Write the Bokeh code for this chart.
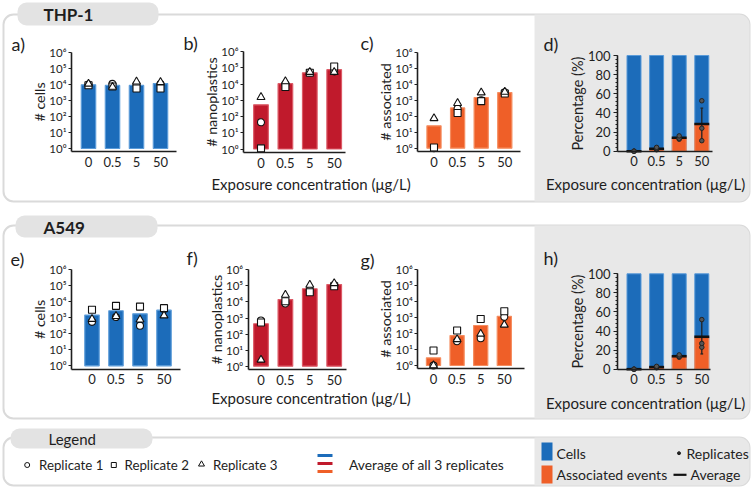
from bokeh.plotting import figure
from bokeh.models import (Range1d, FixedTicker, SingleIntervalTicker, LogScale,
                          LogAxis, LinearAxis, CustomJSTickFormatter,
                          BoxAnnotation, Label)
from bokeh.embed import file_html
from bokeh.resources import INLINE

FONT = "Lato"
TXT = "#1e1e1e"

# ---------------- data ----------------
conc = ["0", "0.5", "5", "50"]
log_ticks = [1, 10, 100, 1000, 10000, 100000, 1000000]

# THP-1
thp_cells_avg = [9500, 8700, 8700, 11500]
thp_cells_r1 = [9800, 11000, 10000, 10700]
thp_cells_r2 = [9000, 7500, 5600, 5600]
thp_cells_r3 = [11000, 7000, 15000, 14000]

thp_np_avg = [525, 10500, 49000, 76000]
thp_np_r1 = [44, 10000, 50000, 60000]
thp_np_r2 = [1.1, 6500, 49000, 120000]
thp_np_r3 = [1550, 14500, 54000, 54000]

thp_as_avg = [25, 330, 1480, 3000]
thp_as_r1 = [1, 290, 1000, 3100]
thp_as_r2 = [1.1, 160, 870, 2600]
thp_as_r3 = [74, 650, 3000, 3300]

thp_pct_avg = [0, 2.5, 14, 28.5]
thp_pct_sd = [0, 1.2, 1.8, 16.5]
thp_pct_r1 = [0, 1.5, 12.5, 24]
thp_pct_r2 = [0, 2.5, 13.5, 11]
thp_pct_r3 = [0, 4, 16, 52.7]

# A549
a549_cells_avg = [1480, 2750, 1780, 3000]
a549_cells_r1 = [560, 1120, 316, 3500]
a549_cells_r2 = [3160, 5600, 5000, 4000]
a549_cells_r3 = [830, 1260, 760, 1380]

a549_np_avg = [440, 14000, 66000, 120000]
a549_np_r1 = [700, 8000, 56000, 112000]
a549_np_r2 = [520, 11000, 40000, 95000]
a549_np_r3 = [2.5, 27500, 115000, 145000]

a549_as_avg = [3, 74, 316, 1200]
a549_as_r1 = [1, 33, 51, 1100]
a549_as_r2 = [8.7, 155, 800, 2450]
a549_as_r3 = [1, 43, 95, 350]

a549_pct_avg = [0, 2.2, 13.6, 34]
a549_pct_sd = [0, 1.0, 1.5, 18]
a549_pct_r1 = [0, 1.5, 12.5, 23]
a549_pct_r2 = [0, 2, 13.5, 27]
a549_pct_r3 = [0, 3, 15, 52]

# ---------------- styles ----------------
BLUE, BLUE_L = "#1c6cba", "#5a9bd9"
RED, RED_L = "#c01a2c", "#dc5a66"
ORANGE, ORANGE_L = "#ef5f28", "#f58d5f"
GRAY_BG = "#e8e8e8"
FRAME = "#dadada"
TAB = "#e3e3e3"

W, H = 756, 489

# panel layout (pixel positions in the picture):
# axis_x, first bar centre, bar spacing, y of top tick, y of zero tick, y of x axis, x-axis end
LAY = {
    "a": (71, 88, 24, 52, 148, 151, 176),
    "b": (243, 260.5, 24.4, 51, 148.5, 152, 345),
    "c": (417, 433.5, 23.6, 51.7, 147.7, 151, 520),
    "d": (617, 633.5, 22.6, 55, 150.7, 150.7, 712),
    "e": (71, 91.5, 24, 269.3, 365.3, 368.5, 180),
    "f": (247.7, 260.5, 24.4, 269.3, 365.7, 369, 346),
    "g": (417.3, 433, 23.6, 269, 365, 368.3, 524),
    "h": (617, 633.5, 22.6, 273.3, 368.7, 368.7, 710),
}

p = figure(width=W, height=H, x_range=Range1d(0, W), y_range=Range1d(H, 0),
           min_border=0, toolbar_location=None, output_backend="svg",
           outline_line_color=None, border_fill_color="white",
           background_fill_color="white", x_axis_location=None,
           y_axis_location=None)
p.grid.visible = False

idx = list(range(len(conc)))
cat_fmt = CustomJSTickFormatter(args=dict(labels=conc),
                                code="return labels[Math.round(tick)];")
log_fmt = CustomJSTickFormatter(
    code="const s='\u2070\u00b9\u00b2\u00b3\u2074\u2075\u2076';"
         "const e=Math.round(Math.log10(tick));return '10'+s[e];")


def style_axis(ax):
    ax.axis_line_color = TXT
    ax.axis_line_width = 1.6
    ax.major_label_text_font = FONT
    ax.major_label_text_color = TXT
    ax.axis_label_text_font = FONT
    ax.axis_label_text_color = TXT
    ax.axis_label_text_font_style = "normal"
    ax.axis_label_text_font_size = "14.3px"
    ax.major_tick_line_color = TXT
    ax.major_tick_line_width = 1.2
    ax.minor_tick_line_color = None


def panel_axes(key, kind, ylabel):
    axis_x, first, sp, y_top, y_zero, axis_y, x_end = LAY[key]
    xr, yr = "x" + key, "y" + key
    p.extra_x_ranges[xr] = Range1d(-first / sp, (W - first) / sp)
    if kind == "log":
        dec = (y_zero - y_top) / 6.0
        p.extra_y_ranges[yr] = Range1d(10 ** ((y_zero - H) / dec), 10 ** (y_zero / dec))
        p.extra_y_scales[yr] = LogScale()
        yax = LogAxis(y_range_name=yr, fixed_location=axis_x,
                      bounds=(10 ** (-(axis_y - y_zero) / dec), 1e6),
                      ticker=FixedTicker(ticks=log_ticks), formatter=log_fmt)
        style_axis(yax)
        yax.major_label_text_font_size = "11.5px"
        yax.major_tick_out = 3
        yax.major_tick_in = 0
        yax.major_label_standoff = 2
        yax.axis_label_standoff = -2
    else:
        u = (y_zero - y_top) / 100.0
        p.extra_y_ranges[yr] = Range1d((y_zero - H) / u, y_zero / u)
        yax = LinearAxis(y_range_name=yr, fixed_location=axis_x, bounds=(0, 100),
                         ticker=SingleIntervalTicker(interval=20, num_minor_ticks=5))
        style_axis(yax)
        yax.major_label_text_font_size = "13px"
        yax.axis_label_text_font_size = "14.5px"
        yax.major_tick_out = 4
        yax.major_tick_in = 0
        yax.minor_tick_line_color = TXT
        yax.minor_tick_out = 2
        yax.minor_tick_in = 0
        yax.major_label_standoff = 3
        yax.axis_label_standoff = -1
    yax.axis_label = ylabel
    xax = LinearAxis(x_range_name=xr, fixed_location=axis_y,
                     bounds=((axis_x - first) / sp, (x_end - first) / sp),
                     ticker=FixedTicker(ticks=idx), formatter=cat_fmt)
    style_axis(xax)
    xax.major_tick_line_color = None
    xax.major_tick_out = 0
    xax.major_tick_in = 0
    xax.major_label_text_font_size = "13px"
    xax.major_label_standoff = 5
    p.add_layout(yax, "left")
    p.add_layout(xax, "below")
    return xr, yr


def log_panel(key, avg, r1, r2, r3, fill, line, ylabel):
    xr, yr = panel_axes(key, "log", ylabel)
    kw = dict(x_range_name=xr, y_range_name=yr)
    p.vbar(x=idx, top=avg, bottom=1, width=0.6, fill_color=fill,
           line_color=line, line_width=1.2, **kw)
    p.scatter(x=idx, y=r1, marker="circle", size=7, fill_color="white",
              line_color="#111", line_width=1.1, **kw)
    p.scatter(x=idx, y=r2, marker="square", size=7, fill_color="white",
              line_color="#111", line_width=1.1, **kw)
    p.scatter(x=idx, y=r3, marker="triangle", size=8, fill_color="white",
              line_color="#111", line_width=1.1, **kw)


def pct_panel(key, avg, sd, r1, r2, r3):
    xr, yr = panel_axes(key, "pct", "Percentage (%)")
    kw = dict(x_range_name=xr, y_range_name=yr)
    full = [100] * len(conc)
    p.vbar(x=idx, top=full, bottom=0, width=0.62, fill_color=BLUE,
           line_color=BLUE_L, line_width=1, **kw)
    p.vbar(x=idx, top=avg, bottom=0, width=0.62, fill_color=ORANGE,
           line_color=ORANGE_L, line_width=1, **kw)
    lo = [a - s for a, s in zip(avg, sd)]
    hi = [a + s for a, s in zip(avg, sd)]
    p.segment(x0=idx, y0=lo, x1=idx, y1=hi, line_color="#222", line_width=1.3, **kw)
    p.rect(x=idx, y=lo, width=0.12, height=1.3, height_units="screen",
           fill_color="#222", line_color=None, **kw)
    p.rect(x=idx, y=hi, width=0.12, height=1.3, height_units="screen",
           fill_color="#222", line_color=None, **kw)
    p.rect(x=idx, y=avg, width=0.66, height=2.6, height_units="screen",
           fill_color="#111", line_color=None, **kw)
    for r in (r1, r2, r3):
        p.scatter(x=idx, y=r, marker="circle", size=4.5, fill_color="#555",
                  line_color="#222", line_width=1, **kw)


# ---------------- decorations (picture pixel coordinates) ----------------
def box(l, r, t, b, fill=None, line=None, radius=0, lw=2):
    p.add_layout(BoxAnnotation(
        left=l, right=r, top=t, bottom=b, level="underlay",
        fill_color=fill if fill else "white", fill_alpha=1 if fill else 0,
        line_color=line if line else "white", line_alpha=1 if line else 0,
        line_width=lw, border_radius=radius))


def label(x, y, text, size="14px", align="left", style="normal"):
    p.add_layout(Label(x=x, y=y, text=text, text_font=FONT, text_font_size=size,
                       text_align=align, text_baseline="middle",
                       text_color=TXT, text_font_style=style))


box(3, 749, 14, 201, line=FRAME, radius=10)
box(534, 749, 14, 201, fill=GRAY_BG, radius=(0, 10, 10, 0))
box(17, 158, 2, 25, fill=TAB, radius=9)
box(3, 749, 225, 418, line=FRAME, radius=10)
box(534, 749, 225, 418, fill=GRAY_BG, radius=(0, 10, 10, 0))
box(15, 157, 215, 237, fill=TAB, radius=9)
box(3, 749, 437, 485, line=FRAME, radius=10)
box(534, 749, 437, 485, fill=GRAY_BG, radius=(0, 10, 10, 0))
box(10, 152, 428, 448, fill=TAB, radius=9)

box(317, 332, 453.5, 456.5, fill=BLUE)
box(317, 332, 461.5, 464.5, fill=RED)
box(317, 332, 469.5, 472.5, fill=ORANGE)
box(541, 552, 442, 460, fill=BLUE)
box(541, 552, 465, 483, fill=ORANGE)
box(673, 686, 473.2, 475.4, fill="#111")

# ---------------- panels ----------------
log_panel("a", thp_cells_avg, thp_cells_r1, thp_cells_r2, thp_cells_r3, BLUE, BLUE_L, "# cells")
log_panel("b", thp_np_avg, thp_np_r1, thp_np_r2, thp_np_r3, RED, RED_L, "# nanoplastics")
log_panel("c", thp_as_avg, thp_as_r1, thp_as_r2, thp_as_r3, ORANGE, ORANGE_L, "# associated")
pct_panel("d", thp_pct_avg, thp_pct_sd, thp_pct_r1, thp_pct_r2, thp_pct_r3)
log_panel("e", a549_cells_avg, a549_cells_r1, a549_cells_r2, a549_cells_r3, BLUE, BLUE_L, "# cells")
log_panel("f", a549_np_avg, a549_np_r1, a549_np_r2, a549_np_r3, RED, RED_L, "# nanoplastics")
log_panel("g", a549_as_avg, a549_as_r1, a549_as_r2, a549_as_r3, ORANGE, ORANGE_L, "# associated")
pct_panel("h", a549_pct_avg, a549_pct_sd, a549_pct_r1, a549_pct_r2, a549_pct_r3)

# legend markers
p.scatter(x=[26.7], y=[464.5], marker="circle", size=5, fill_color="white",
          line_color="#111", line_width=1)
p.scatter(x=[113.3], y=[464.5], marker="square", size=5, fill_color="white",
          line_color="#111", line_width=1)
p.scatter(x=[201], y=[463.8], marker="triangle", size=6, fill_color="white",
          line_color="#111", line_width=1)
p.scatter(x=[678.5], y=[452.7], marker="circle", size=3, fill_color="#222",
          line_color="#222")

# texts
label(43, 14, "THP-1", size="17px", style="bold")
label(43, 227, "A549", size="17px", style="bold")
label(71.7, 438.5, "Legend", size="15px", align="center")
for (x, y, t) in [(11, 43, "a)"), (183, 42, "b)"), (360, 42, "c)"), (543, 43, "d)"),
                  (10, 258, "e)"), (186, 257, "f)"), (360, 259, "g)"), (543, 257, "h)")]:
    label(x, y, t, size="18px")
xt = "Exposure concentration (\u03bcg/L)"
label(310.5, 183, xt, size="15px", align="center")
label(645, 183, xt, size="15px", align="center")
label(310.5, 397, xt, size="15px", align="center")
label(645, 402, xt, size="15px", align="center")

label(38.5, 464.5, "Replicate 1", size="13.3px")
label(124, 464.5, "Replicate 2", size="13.3px")
label(212.5, 464.5, "Replicate 3", size="13.3px")
label(348.5, 463.5, "Average of all 3 replicates", size="13.8px")
label(556, 452.7, "Cells", size="14px")
label(556, 474.3, "Associated events", size="14px")
label(686, 452.7, "Replicates", size="14px")
label(690, 474.3, "Average", size="14px")

with open("out.html", "w", encoding="utf-8") as fh:
    fh.write(file_html(p, INLINE))
